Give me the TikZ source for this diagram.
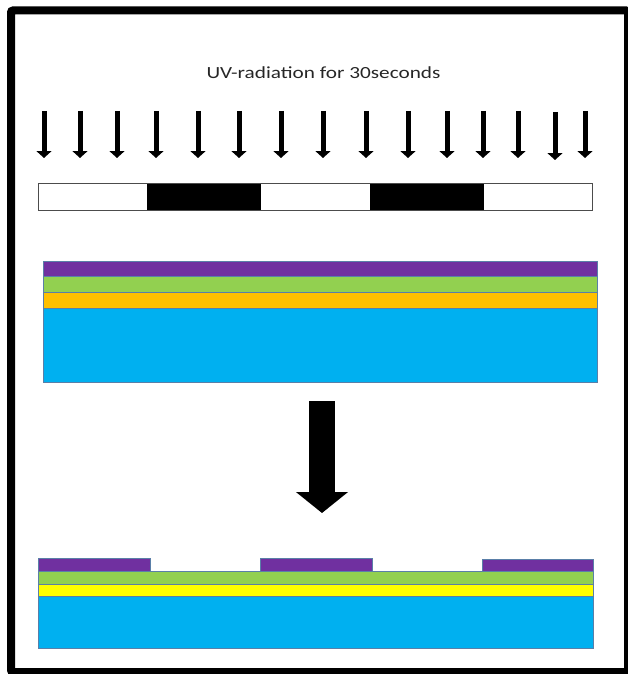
\documentclass[tikz,border=0pt]{standalone}
\usepackage{fontspec}
\setmainfont{Carlito}
\usepackage{graphicx}
\usetikzlibrary{arrows.meta}
\definecolor{resist}{HTML}{7030A0}
\definecolor{lgreen}{HTML}{92D050}
\definecolor{gold}{HTML}{FFC000}
\definecolor{lyellow}{HTML}{FFFF00}
\definecolor{substrate}{HTML}{00B0F0}
\definecolor{edge}{HTML}{5A7FA8}

\begin{document}
\begin{tikzpicture}[
        x=1pt, y=-1pt,
        layer/.style={draw=edge, line width=0.8pt},
        uvray/.style={line width=5pt, -{Triangle[width=15pt,length=7pt]}},
        bigarrow/.style={line width=26pt, -{Triangle[width=51pt,length=21pt]}},
        maskbox/.style={draw=black!70, line width=0.8pt},
      ]
      \useasboundingbox (0,0) rectangle (628,674);
      \draw[line width=8pt, rounded corners=2pt] (11,10.5) rectangle (628,672);

      \node[anchor=base, text=black!85, font=\fontsize{17}{20}\selectfont] (title)
        at (323.5,79) {\scalebox{1.25}[1]{UV-radiation for 30seconds}};

      % UV rays
      \foreach \x in {44,80,117,156,198,239,281,323,366,408,447,483,518,585}
        \draw[uvray] (\x,111) -- (\x,158);
      \draw[uvray] (555,112) -- (555,160);

      % mask
      \draw[maskbox, fill=white] (38,183) rectangle (592,210);
      \fill[black] (147,183) rectangle (261,210);
      \fill[black] (370,183) rectangle (484,210);
      \draw[maskbox] (38,183) rectangle (592,210);

      % stack before exposure
      \draw[layer, fill=substrate] (43,308) rectangle (597,382);
      \draw[layer, fill=gold] (43,292) rectangle (597,308);
      \draw[layer, fill=lgreen] (43,276) rectangle (597,292);
      \draw[layer, fill=resist] (43,261) rectangle (597,276);

      \coordinate (from) at (322,401);
      \coordinate (to) at (322,513);
      \draw[bigarrow] (from) -- (to);

      % stack after development
      \draw[layer, fill=substrate] (38,596) rectangle (593,648);
      \draw[layer, fill=lyellow] (38,584) rectangle (593,596);
      \draw[layer, fill=lgreen] (38,571) rectangle (593,584);
      \draw[layer, fill=resist] (38,558) rectangle (150,571);
      \draw[layer, fill=resist] (260,558) rectangle (372,571);
      \draw[layer, fill=resist] (482,559) rectangle (593,571);
    \end{tikzpicture}
\end{document}
